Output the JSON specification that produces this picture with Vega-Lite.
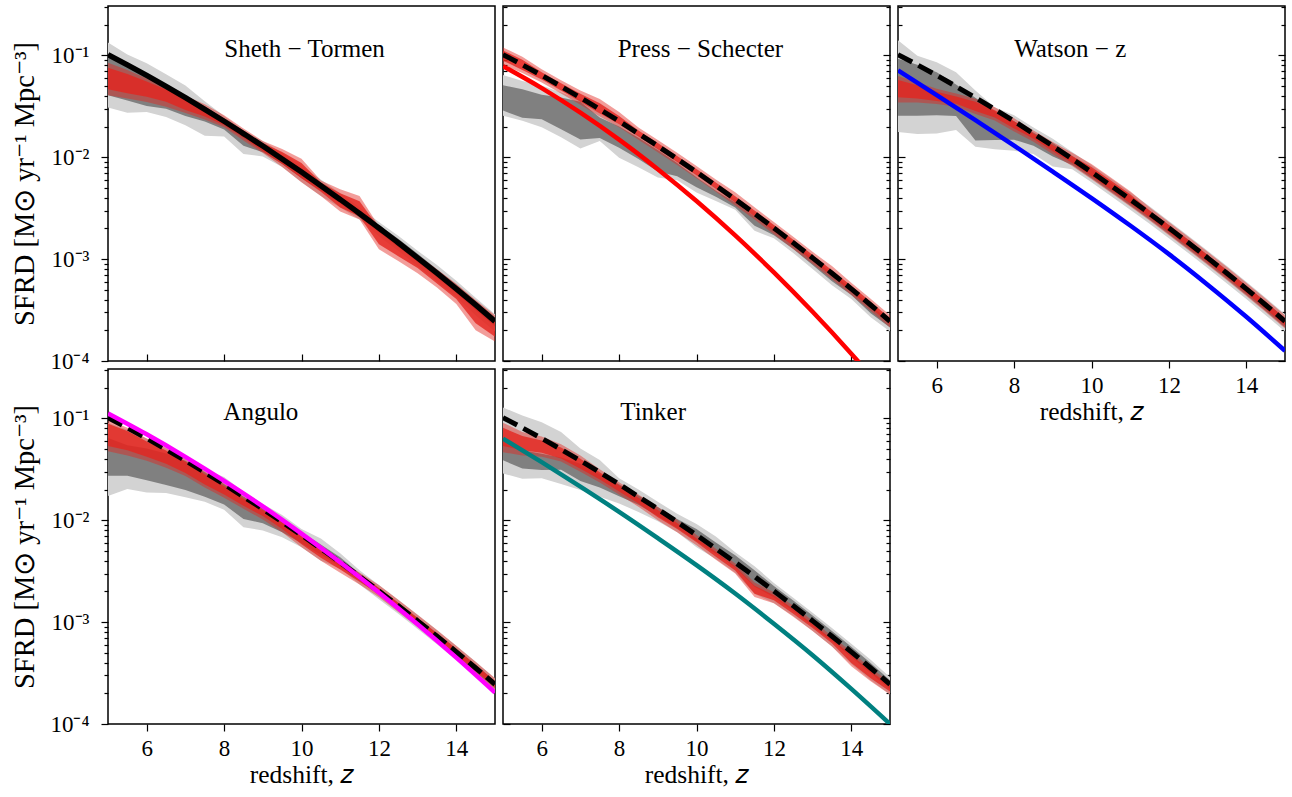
{
  "$schema": "https://vega.github.io/schema/vega-lite/v6.json",
  "background": "white",
  "padding": {"left": 10, "top": 5, "right": 5, "bottom": 5},
  "config": {
    "view": {"stroke": "#000", "strokeWidth": 1.5},
    "font": "Liberation Serif",
    "axis": {"domain": false, "grid": false, "labelFont": "Liberation Serif", "titleFont": "Liberation Serif", "titleFontWeight": "normal", "labelColor": "#000", "titleColor": "#000", "tickColor": "#000", "labelFontSize": 23, "titleFontSize": 25.5}
  },
  "datasets": {
    "bands": [
      {"p":"ST","z":5,"gol":0.0308,"goh":0.134,"gil":0.0406,"gih":0.102,"rol":0.0406,"roh":0.0849,"ril":0.0466,"rih":0.0756},
      {"p":"ST","z":5.5,"gol":0.0274,"goh":0.102,"gil":0.0362,"gih":0.0809,"rol":0.0379,"roh":0.0721,"ril":0.0425,"rih":0.0658},
      {"p":"ST","z":6,"gol":0.0278,"goh":0.084,"gil":0.0319,"gih":0.0667,"rol":0.035,"roh":0.0594,"ril":0.0393,"rih":0.0555},
      {"p":"ST","z":6.5,"gol":0.0249,"goh":0.0655,"gil":0.03,"gih":0.052,"rol":0.0314,"roh":0.0497,"ril":0.0352,"rih":0.0464},
      {"p":"ST","z":7,"gol":0.0207,"goh":0.0507,"gil":0.0254,"gih":0.0403,"rol":0.0273,"roh":0.0403,"ril":0.0292,"rih":0.0385},
      {"p":"ST","z":7.5,"gol":0.0163,"goh":0.0356,"gil":0.0225,"gih":0.0317,"rol":0.0235,"roh":0.0332,"ril":0.0252,"rih":0.031},
      {"p":"ST","z":8,"gol":0.016,"goh":0.0254,"gil":0.0188,"gih":0.0237,"rol":0.0197,"roh":0.0259,"ril":0.0206,"rih":0.0242},
      {"p":"ST","z":8.5,"gol":0.0108,"goh":0.0183,"gil":0.013,"gih":0.0175,"rol":0.0146,"roh":0.0192,"ril":0.0156,"rih":0.0183},
      {"p":"ST","z":9,"gol":0.0102,"goh":0.0145,"gil":0.0112,"gih":0.0135,"rol":0.011,"roh":0.0145,"ril":0.0115,"rih":0.0138},
      {"p":"ST","z":9.5,"gol":0.00802,"goh":0.0111,"gil":0.00859,"gih":0.0103,"rol":0.00802,"roh":0.0121,"ril":0.00859,"rih":0.0113},
      {"p":"ST","z":10,"gol":0.00569,"goh":0.00822,"gil":0.00624,"gih":0.00768,"rol":0.00569,"roh":0.00966,"ril":0.00624,"rih":0.00881},
      {"p":"ST","z":10.5,"gol":0.00418,"goh":0.00605,"gil":0.0047,"gih":0.00565,"rol":0.00418,"roh":0.00591,"ril":0.00459,"rih":0.00565},
      {"p":"ST","z":11,"gol":0.00321,"goh":0.00443,"gil":0.00352,"gih":0.00414,"rol":0.00293,"roh":0.00486,"ril":0.00321,"rih":0.00443},
      {"p":"ST","z":11.5,"gol":0.00245,"goh":0.00323,"gil":0.00256,"gih":0.00301,"rol":0.00245,"roh":0.00416,"ril":0.00262,"rih":0.0037},
      {"p":"ST","z":12,"gol":0.00168,"goh":0.00232,"gil":0.00184,"gih":0.00217,"rol":0.00125,"roh":0.00211,"ril":0.0014,"rih":0.00202},
      {"p":"ST","z":12.5,"gol":0.00121,"goh":0.0017,"gil":0.00132,"gih":0.00159,"rol":0.000958,"roh":0.00155,"ril":0.00107,"rih":0.00145},
      {"p":"ST","z":13,"gol":0.000857,"goh":0.00121,"gil":0.000939,"gih":0.00113,"rol":0.000729,"roh":0.0011,"ril":0.000818,"rih":0.00105},
      {"p":"ST","z":13.5,"gol":0.000606,"goh":0.000875,"gil":0.000664,"gih":0.000798,"rol":0.000527,"roh":0.000798,"ril":0.000578,"rih":0.000762},
      {"p":"ST","z":14,"gol":0.000425,"goh":0.000614,"gil":0.000466,"gih":0.00056,"rol":0.000362,"roh":0.000573,"ril":0.000406,"rih":0.000535},
      {"p":"ST","z":14.5,"gol":0.000282,"goh":0.000417,"gil":0.000316,"gih":0.000389,"rol":0.0002,"roh":0.000398,"ril":0.000235,"rih":0.000355},
      {"p":"ST","z":15,"gol":0.000195,"goh":0.000288,"gil":0.000218,"gih":0.000269,"rol":0.000155,"roh":0.000281,"ril":0.000173,"rih":0.000257},

      {"p":"PS","z":5,"gol":0.0256,"goh":0.0644,"gil":0.0288,"gih":0.0511,"rol":0.081,"roh":0.12,"ril":0.0888,"rih":0.112},
      {"p":"PS","z":5.5,"gol":0.0228,"goh":0.056,"gil":0.0244,"gih":0.0465,"rol":0.0673,"roh":0.0972,"ril":0.0721,"rih":0.0908},
      {"p":"PS","z":6,"gol":0.0197,"goh":0.0506,"gil":0.0237,"gih":0.0412,"rol":0.0542,"roh":0.0731,"ril":0.0581,"rih":0.0683},
      {"p":"PS","z":6.5,"gol":0.0157,"goh":0.0433,"gil":0.0189,"gih":0.0386,"rol":0.0423,"roh":0.0571,"ril":0.0453,"rih":0.0533},
      {"p":"PS","z":7,"gol":0.0122,"goh":0.0368,"gil":0.015,"gih":0.0351,"rol":0.0328,"roh":0.0452,"ril":0.0351,"rih":0.0422},
      {"p":"PS","z":7.5,"gol":0.0145,"goh":0.027,"gil":0.0155,"gih":0.0246,"rol":0.0252,"roh":0.0373,"ril":0.027,"rih":0.034},
      {"p":"PS","z":8,"gol":0.00988,"goh":0.0211,"gil":0.0124,"gih":0.0201,"rol":0.0197,"roh":0.0278,"ril":0.0211,"rih":0.0254},
      {"p":"PS","z":8.5,"gol":0.008,"goh":0.0167,"gil":0.00961,"gih":0.0156,"rol":0.0149,"roh":0.0196,"ril":0.016,"rih":0.0183},
      {"p":"PS","z":9,"gol":0.00632,"goh":0.0123,"gil":0.00725,"gih":0.0118,"rol":0.0112,"roh":0.0148,"ril":0.012,"rih":0.0138},
      {"p":"PS","z":9.5,"gol":0.00595,"goh":0.00921,"gil":0.00652,"gih":0.00879,"rol":0.0084,"roh":0.0111,"ril":0.00899,"rih":0.0103},
      {"p":"PS","z":10,"gol":0.00452,"goh":0.00684,"gil":0.00507,"gih":0.00638,"rol":0.00624,"roh":0.00822,"ril":0.00668,"rih":0.00768},
      {"p":"PS","z":10.5,"gol":0.00373,"goh":0.00503,"gil":0.00409,"gih":0.0047,"rol":0.00459,"roh":0.00605,"ril":0.00492,"rih":0.00565},
      {"p":"PS","z":11,"gol":0.00306,"goh":0.00395,"gil":0.00321,"gih":0.0036,"rol":0.00336,"roh":0.00454,"ril":0.0036,"rih":0.00414},
      {"p":"PS","z":11.5,"gol":0.0019,"goh":0.00287,"gil":0.00213,"gih":0.00262,"rol":0.00245,"roh":0.00323,"ril":0.00262,"rih":0.00301},
      {"p":"PS","z":12,"gol":0.0016,"goh":0.00217,"gil":0.00172,"gih":0.00202,"rol":0.00176,"roh":0.00232,"ril":0.00188,"rih":0.00217},
      {"p":"PS","z":12.5,"gol":0.00115,"goh":0.00155,"gil":0.00126,"gih":0.00145,"rol":0.00126,"roh":0.00166,"ril":0.00135,"rih":0.00155},
      {"p":"PS","z":13,"gol":0.000799,"goh":0.0011,"gil":0.000877,"gih":0.00103,"rol":0.000897,"roh":0.00118,"ril":0.000961,"rih":0.0011},
      {"p":"PS","z":13.5,"gol":0.000553,"goh":0.000762,"gil":0.000606,"gih":0.000728,"rol":0.000634,"roh":0.000855,"ril":0.000679,"rih":0.00078},
      {"p":"PS","z":14,"gol":0.000406,"goh":0.000548,"gil":0.000445,"gih":0.000511,"rol":0.000445,"roh":0.000587,"ril":0.000477,"rih":0.000548},
      {"p":"PS","z":14.5,"gol":0.000269,"goh":0.000381,"gil":0.000295,"gih":0.000355,"rol":0.000309,"roh":0.000408,"ril":0.000331,"rih":0.000381},
      {"p":"PS","z":15,"gol":0.000195,"goh":0.000257,"gil":0.000213,"gih":0.000245,"rol":0.000213,"roh":0.000281,"ril":0.000229,"rih":0.000263},

      {"p":"WZ","z":5,"gol":0.0177,"goh":0.141,"gil":0.0256,"gih":0.093,"rol":0.0346,"roh":0.0629,"ril":0.0388,"rih":0.0573},
      {"p":"WZ","z":5.5,"gol":0.0169,"goh":0.0995,"gil":0.0256,"gih":0.0809,"rol":0.0345,"roh":0.0547,"ril":0.0379,"rih":0.051},
      {"p":"WZ","z":6,"gol":0.0171,"goh":0.0859,"gil":0.0259,"gih":0.0683,"rol":0.0334,"roh":0.0472,"ril":0.0358,"rih":0.0441},
      {"p":"WZ","z":6.5,"gol":0.0185,"goh":0.0686,"gil":0.0255,"gih":0.052,"rol":0.0314,"roh":0.0423,"ril":0.0336,"rih":0.0395},
      {"p":"WZ","z":7,"gol":0.0127,"goh":0.0452,"gil":0.0146,"gih":0.0385,"rol":0.0266,"roh":0.0376,"ril":0.0285,"rih":0.0351},
      {"p":"WZ","z":7.5,"gol":0.012,"goh":0.031,"gil":0.0148,"gih":0.0283,"rol":0.023,"roh":0.031,"ril":0.0246,"rih":0.0289},
      {"p":"WZ","z":8,"gol":0.0116,"goh":0.0259,"gil":0.0149,"gih":0.0226,"rol":0.0179,"roh":0.0242,"ril":0.0192,"rih":0.0226},
      {"p":"WZ","z":8.5,"gol":0.0108,"goh":0.0196,"gil":0.013,"gih":0.0175,"rol":0.0142,"roh":0.0183,"ril":0.0152,"rih":0.0171},
      {"p":"WZ","z":9,"gol":0.00814,"goh":0.0152,"gil":0.0102,"gih":0.0138,"rol":0.0107,"roh":0.0141,"ril":0.0115,"rih":0.0132},
      {"p":"WZ","z":9.5,"gol":0.00765,"goh":0.0113,"gil":0.0084,"gih":0.0103,"rol":0.0082,"roh":0.0111,"ril":0.00879,"rih":0.0103},
      {"p":"WZ","z":10,"gol":0.00569,"goh":0.00841,"gil":0.00624,"gih":0.00768,"rol":0.00609,"roh":0.00861,"ril":0.00653,"rih":0.00803},
      {"p":"WZ","z":10.5,"gol":0.00418,"goh":0.00619,"gil":0.00459,"gih":0.00565,"rol":0.00448,"roh":0.00633,"ril":0.00481,"rih":0.00591},
      {"p":"WZ","z":11,"gol":0.00306,"goh":0.00454,"gil":0.00336,"gih":0.00414,"rol":0.00328,"roh":0.00464,"ril":0.00352,"rih":0.00433},
      {"p":"WZ","z":11.5,"gol":0.00223,"goh":0.0033,"gil":0.00245,"gih":0.00301,"rol":0.00239,"roh":0.00323,"ril":0.00256,"rih":0.00301},
      {"p":"WZ","z":12,"gol":0.0016,"goh":0.00237,"gil":0.00176,"gih":0.00217,"rol":0.00172,"roh":0.00232,"ril":0.00184,"rih":0.00217},
      {"p":"WZ","z":12.5,"gol":0.00115,"goh":0.0017,"gil":0.00126,"gih":0.00155,"rol":0.00123,"roh":0.00166,"ril":0.00132,"rih":0.00155},
      {"p":"WZ","z":13,"gol":0.000818,"goh":0.00121,"gil":0.000897,"gih":0.0011,"rol":0.000877,"roh":0.00118,"ril":0.000939,"rih":0.0011},
      {"p":"WZ","z":13.5,"gol":0.000578,"goh":0.000855,"gil":0.000634,"gih":0.00078,"rol":0.00062,"roh":0.000836,"ril":0.000664,"rih":0.00078},
      {"p":"WZ","z":14,"gol":0.000406,"goh":0.0006,"gil":0.000445,"gih":0.000548,"rol":0.000435,"roh":0.000587,"ril":0.000466,"rih":0.000548},
      {"p":"WZ","z":14.5,"gol":0.000282,"goh":0.000417,"gil":0.000309,"gih":0.000381,"rol":0.000302,"roh":0.000408,"ril":0.000324,"rih":0.000381},
      {"p":"WZ","z":15,"gol":0.000195,"goh":0.000288,"gil":0.000213,"gih":0.000263,"rol":0.000208,"roh":0.000281,"ril":0.000223,"rih":0.000263},

      {"p":"AN","z":5,"gol":0.0173,"goh":0.0909,"gil":0.0274,"gih":0.0644,"rol":0.0477,"roh":0.0974,"ril":0.0536,"rih":0.0888},
      {"p":"AN","z":5.5,"gol":0.0203,"goh":0.0773,"gil":0.0274,"gih":0.0547,"rol":0.0434,"roh":0.0809,"ril":0.0488,"rih":0.0755},
      {"p":"AN","z":6,"gol":0.0188,"goh":0.0637,"gil":0.0248,"gih":0.0506,"rol":0.0384,"roh":0.0637,"ril":0.0421,"rih":0.0594},
      {"p":"AN","z":6.5,"gol":0.0185,"goh":0.0508,"gil":0.0222,"gih":0.0453,"rol":0.0329,"roh":0.052,"ril":0.036,"rih":0.0486},
      {"p":"AN","z":7,"gol":0.0168,"goh":0.0403,"gil":0.0198,"gih":0.0385,"rol":0.0273,"roh":0.0403,"ril":0.0292,"rih":0.0376},
      {"p":"AN","z":7.5,"gol":0.0152,"goh":0.0317,"gil":0.017,"gih":0.0296,"rol":0.021,"roh":0.0303,"ril":0.0225,"rih":0.0283},
      {"p":"AN","z":8,"gol":0.0127,"goh":0.0266,"gil":0.0143,"gih":0.0226,"rol":0.0167,"roh":0.0231,"ril":0.0179,"rih":0.0216},
      {"p":"AN","z":8.5,"gol":0.00857,"goh":0.0192,"gil":0.0103,"gih":0.0171,"rol":0.013,"roh":0.0171,"ril":0.0139,"rih":0.0163},
      {"p":"AN","z":9,"gol":0.00796,"goh":0.0145,"gil":0.00934,"gih":0.0132,"rol":0.0102,"roh":0.0132,"ril":0.011,"rih":0.0126},
      {"p":"AN","z":9.5,"gol":0.00683,"goh":0.0113,"gil":0.00765,"gih":0.0101,"rol":0.00765,"roh":0.0101,"ril":0.0082,"rih":0.00964},
      {"p":"AN","z":10,"gol":0.00543,"goh":0.00822,"gil":0.00596,"gih":0.00768,"rol":0.00543,"roh":0.00733,"ril":0.00582,"rih":0.007},
      {"p":"AN","z":10.5,"gol":0.004,"goh":0.00663,"gil":0.00459,"gih":0.00578,"rol":0.004,"roh":0.00552,"ril":0.00428,"rih":0.00527},
      {"p":"AN","z":11,"gol":0.00336,"goh":0.00475,"gil":0.00352,"gih":0.00433,"rol":0.00306,"roh":0.00404,"ril":0.00328,"rih":0.00386},
      {"p":"AN","z":11.5,"gol":0.00234,"goh":0.00323,"gil":0.00256,"gih":0.00301,"rol":0.00234,"roh":0.00308,"ril":0.0025,"rih":0.00294},
      {"p":"AN","z":12,"gol":0.00168,"goh":0.00232,"gil":0.00184,"gih":0.00217,"rol":0.00176,"roh":0.00232,"ril":0.00188,"rih":0.00217},
      {"p":"AN","z":12.5,"gol":0.00121,"goh":0.00166,"gil":0.00132,"gih":0.00155,"rol":0.00126,"roh":0.00166,"ril":0.00135,"rih":0.00155},
      {"p":"AN","z":13,"gol":0.000857,"goh":0.00118,"gil":0.000939,"gih":0.0011,"rol":0.000897,"roh":0.00118,"ril":0.000961,"rih":0.0011},
      {"p":"AN","z":13.5,"gol":0.000606,"goh":0.000836,"gil":0.000664,"gih":0.00078,"rol":0.000634,"roh":0.000836,"ril":0.000679,"rih":0.00078},
      {"p":"AN","z":14,"gol":0.000425,"goh":0.000587,"gil":0.000466,"gih":0.000548,"rol":0.000445,"roh":0.000587,"ril":0.000477,"rih":0.000548},
      {"p":"AN","z":14.5,"gol":0.000295,"goh":0.000408,"gil":0.000324,"gih":0.000381,"rol":0.000309,"roh":0.000408,"ril":0.000331,"rih":0.000381},
      {"p":"AN","z":15,"gol":0.000204,"goh":0.000281,"gil":0.000223,"gih":0.000263,"rol":0.000213,"roh":0.000281,"ril":0.000229,"rih":0.000263},

      {"p":"TK","z":5,"gol":0.0288,"goh":0.128,"gil":0.0388,"gih":0.0615,"rol":0.0466,"roh":0.0909,"ril":0.0536,"rih":0.081},
      {"p":"TK","z":5.5,"gol":0.0256,"goh":0.107,"gil":0.0322,"gih":0.0488,"rol":0.0434,"roh":0.0738,"ril":0.0488,"rih":0.0673},
      {"p":"TK","z":6,"gol":0.0259,"goh":0.092,"gil":0.0312,"gih":0.0451,"rol":0.0421,"roh":0.0667,"ril":0.0461,"rih":0.0608},
      {"p":"TK","z":6.5,"gol":0.0227,"goh":0.0735,"gil":0.0314,"gih":0.0414,"rol":0.0377,"roh":0.0558,"ril":0.0404,"rih":0.052},
      {"p":"TK","z":7,"gol":0.0198,"goh":0.0507,"gil":0.0243,"gih":0.0359,"rol":0.0299,"roh":0.0432,"ril":0.032,"rih":0.0403},
      {"p":"TK","z":7.5,"gol":0.017,"goh":0.039,"gil":0.021,"gih":0.0283,"rol":0.0235,"roh":0.0317,"ril":0.0252,"rih":0.0296},
      {"p":"TK","z":8,"gol":0.0146,"goh":0.0259,"gil":0.0172,"gih":0.0226,"rol":0.0179,"roh":0.0237,"ril":0.0192,"rih":0.0221},
      {"p":"TK","z":8.5,"gol":0.0121,"goh":0.0201,"gil":0.0142,"gih":0.0175,"rol":0.0136,"roh":0.0179,"ril":0.0146,"rih":0.0167},
      {"p":"TK","z":9,"gol":0.00979,"goh":0.0152,"gil":0.011,"gih":0.0135,"rol":0.01,"roh":0.0135,"ril":0.0107,"rih":0.0126},
      {"p":"TK","z":9.5,"gol":0.00765,"goh":0.0116,"gil":0.0084,"gih":0.0103,"rol":0.00765,"roh":0.0101,"ril":0.0082,"rih":0.00942},
      {"p":"TK","z":10,"gol":0.00543,"goh":0.00922,"gil":0.00624,"gih":0.00822,"rol":0.00569,"roh":0.00716,"ril":0.00609,"rih":0.00668},
      {"p":"TK","z":10.5,"gol":0.00418,"goh":0.00695,"gil":0.0047,"gih":0.00605,"rol":0.00409,"roh":0.00527,"ril":0.00438,"rih":0.00492},
      {"p":"TK","z":11,"gol":0.00306,"goh":0.00486,"gil":0.00344,"gih":0.00454,"rol":0.003,"roh":0.00377,"ril":0.00321,"rih":0.00352},
      {"p":"TK","z":11.5,"gol":0.0019,"goh":0.00354,"gil":0.00223,"gih":0.00323,"rol":0.00177,"roh":0.00245,"ril":0.0019,"rih":0.00228},
      {"p":"TK","z":12,"gol":0.00153,"goh":0.00243,"gil":0.00176,"gih":0.00227,"rol":0.00153,"roh":0.00197,"ril":0.00164,"rih":0.00184},
      {"p":"TK","z":12.5,"gol":0.00115,"goh":0.00174,"gil":0.00129,"gih":0.00163,"rol":0.00113,"roh":0.00145,"ril":0.00121,"rih":0.00135},
      {"p":"TK","z":13,"gol":0.000818,"goh":0.00124,"gil":0.000918,"gih":0.00116,"rol":0.000818,"roh":0.00103,"ril":0.000877,"rih":0.000961},
      {"p":"TK","z":13.5,"gol":0.000578,"goh":0.000875,"gil":0.000649,"gih":0.000817,"rol":0.000578,"roh":0.000728,"ril":0.00062,"rih":0.000679},
      {"p":"TK","z":14,"gol":0.000388,"goh":0.000614,"gil":0.000455,"gih":0.000573,"rol":0.00037,"roh":0.000511,"ril":0.000397,"rih":0.000477},
      {"p":"TK","z":14.5,"gol":0.000269,"goh":0.000427,"gil":0.000316,"gih":0.000398,"rol":0.000263,"roh":0.000355,"ril":0.000282,"rih":0.000331},
      {"p":"TK","z":15,"gol":0.000195,"goh":0.000288,"gil":0.000218,"gih":0.000269,"rol":0.000195,"roh":0.000257,"ril":0.000208,"rih":0.000239}
    ],
    "lines": [
      {"m":"ST","z":5,"v":0.102},{"m":"ST","z":5.5,"v":0.0809},{"m":"ST","z":6,"v":0.0637},{"m":"ST","z":6.5,"v":0.0497},
      {"m":"ST","z":7,"v":0.0385},{"m":"ST","z":7.5,"v":0.0296},{"m":"ST","z":8,"v":0.0226},{"m":"ST","z":8.5,"v":0.0171},
      {"m":"ST","z":9,"v":0.0129},{"m":"ST","z":9.5,"v":0.00964},{"m":"ST","z":10,"v":0.00716},{"m":"ST","z":10.5,"v":0.00527},
      {"m":"ST","z":11,"v":0.00386},{"m":"ST","z":11.5,"v":0.00281},{"m":"ST","z":12,"v":0.00202},{"m":"ST","z":12.5,"v":0.00145},
      {"m":"ST","z":13,"v":0.00103},{"m":"ST","z":13.5,"v":0.000728},{"m":"ST","z":14,"v":0.000511},{"m":"ST","z":14.5,"v":0.000355},
      {"m":"ST","z":15,"v":0.000245},
      {"m":"PS","z":5,"v":0.0785},{"m":"PS","z":6,"v":0.0478},{"m":"PS","z":7,"v":0.0274},{"m":"PS","z":8,"v":0.0149},
      {"m":"PS","z":9,"v":0.00764},{"m":"PS","z":10,"v":0.00372},{"m":"PS","z":11,"v":0.00171},{"m":"PS","z":12,"v":0.000741},
      {"m":"PS","z":13,"v":0.000304},{"m":"PS","z":14,"v":0.000118},{"m":"PS","z":15,"v":0.0000434},
      {"m":"WZ","z":5,"v":0.0713},{"m":"WZ","z":6,"v":0.0407},{"m":"WZ","z":7,"v":0.0232},{"m":"WZ","z":8,"v":0.01303},
      {"m":"WZ","z":9,"v":0.00724},{"m":"WZ","z":10,"v":0.00398},{"m":"WZ","z":11,"v":0.00214},{"m":"WZ","z":12,"v":0.00112},
      {"m":"WZ","z":13,"v":0.000562},{"m":"WZ","z":14,"v":0.000272},{"m":"WZ","z":15,"v":0.000126},
      {"m":"AN","z":5,"v":0.1122},{"m":"AN","z":6,"v":0.0699},{"m":"AN","z":7,"v":0.042},{"m":"AN","z":8,"v":0.0244},
      {"m":"AN","z":9,"v":0.0137},{"m":"AN","z":10,"v":0.00741},{"m":"AN","z":11,"v":0.00388},{"m":"AN","z":12,"v":0.00196},
      {"m":"AN","z":13,"v":0.000954},{"m":"AN","z":14,"v":0.000449},{"m":"AN","z":15,"v":0.000204},
      {"m":"TK","z":5,"v":0.0635},{"m":"TK","z":6,"v":0.0372},{"m":"TK","z":7,"v":0.0214},{"m":"TK","z":8,"v":0.0121},
      {"m":"TK","z":9,"v":0.00668},{"m":"TK","z":10,"v":0.00363},{"m":"TK","z":11,"v":0.00191},{"m":"TK","z":12,"v":0.000964},
      {"m":"TK","z":13,"v":0.000473},{"m":"TK","z":14,"v":0.000221},{"m":"TK","z":15,"v":0.0001}
    ],
    "labels": [
      {"p":"ST","z":10.08,"v":0.0965,"t":"Sheth − Tormen"},
      {"p":"PS","z":10.1,"v":0.0965,"t":"Press − Schecter"},
      {"p":"WZ","z":9.45,"v":0.0965,"t":"Watson − z"},
      {"p":"AN","z":8.95,"v":0.0965,"t":"Angulo"},
      {"p":"TK","z":8.88,"v":0.0965,"t":"Tinker"}
    ]
  },
  "columns": 3,
  "spacing": {"row": 8, "column": 8},
  "bounds": "flush",
  "concat": [
    {
      "width": 387, "height": 355,
      "resolve": {"axis": {"y": "independent"}},
      "encoding": {"x": {"field": "z", "type": "quantitative", "scale": {"domain": [5, 15], "nice": false, "zero": false},
        "axis": {"values": [6,8,10,12,14], "labels": false, "tickSize": -7, "tickWidth": 1.2, "title": null}}},
      "layer": [
        {"data": {"name": "bands"}, "transform": [{"filter": "datum.p == 'ST'"}], "mark": {"type": "area", "color": "#d3d3d3", "clip": true},
         "encoding": {"y": {"field": "gol", "type": "quantitative", "scale": {"type": "log", "domain": [0.0001, 0.306], "nice": false},
           "axis": {"orient": "left", "values": [0.0001,0.0002,0.0003,0.0004,0.0005,0.0006,0.0007,0.0008,0.0009,0.001,0.002,0.003,0.004,0.005,0.006,0.007,0.008,0.009,0.01,0.02,0.03,0.04,0.05,0.06,0.07,0.08,0.09,0.1,0.2,0.3],
             "labelExpr": "datum.value == 0.1 ? '10⁻¹' : datum.value == 0.01 ? '10⁻²' : datum.value == 0.001 ? '10⁻³' : datum.value == 0.0001 ? '10⁻⁴' : ''",
             "labelFontSize": {"condition": {"test": "datum.value == 0.1 || datum.value == 0.01 || datum.value == 0.001 || datum.value == 0.0001", "value": 23}, "value": 1},
             "tickSize": {"condition": {"test": "datum.value == 0.1 || datum.value == 0.01 || datum.value == 0.001 || datum.value == 0.0001", "value": 7}, "value": 4},
             "tickWidth": 1.2, "labelPadding": 12, "labelOverlap": false, "labelFlush": false, "labelBound": false,
             "title": "SFRD [M⊙ yr⁻¹ Mpc⁻³]", "titleFontSize": 28.5, "titlePadding": 10}},
           "y2": {"field": "goh"}}},
        {"data": {"name": "bands"}, "transform": [{"filter": "datum.p == 'ST'"}], "mark": {"type": "area", "color": "#808080", "clip": true},
         "encoding": {"y": {"field": "gil", "type": "quantitative", "scale": {"type": "log", "domain": [0.0001, 0.306], "nice": false}, "axis": null}, "y2": {"field": "gih"}}},
        {"data": {"name": "bands"}, "transform": [{"filter": "datum.p == 'ST'"}], "mark": {"type": "area", "color": "#e3261f", "opacity": 0.45, "clip": true},
         "encoding": {"y": {"field": "rol", "type": "quantitative", "scale": {"type": "log", "domain": [0.0001, 0.306], "nice": false}, "axis": null}, "y2": {"field": "roh"}}},
        {"data": {"name": "bands"}, "transform": [{"filter": "datum.p == 'ST'"}], "mark": {"type": "area", "color": "#e3261f", "opacity": 0.8, "clip": true},
         "encoding": {"y": {"field": "ril", "type": "quantitative", "scale": {"type": "log", "domain": [0.0001, 0.306], "nice": false}, "axis": null}, "y2": {"field": "rih"}}},
        {"data": {"name": "lines"}, "transform": [{"filter": "datum.m == 'ST'"}], "mark": {"type": "line", "color": "#000", "strokeWidth": 5.5, "interpolate": "monotone", "clip": true},
         "encoding": {"y": {"field": "v", "type": "quantitative", "scale": {"type": "log", "domain": [0.0001, 0.306], "nice": false}, "axis": null}}},
        {"data": {"name": "labels"}, "transform": [{"filter": "datum.p == 'ST'"}], "mark": {"type": "text", "font": "Liberation Serif", "fontSize": 25, "align": "center", "baseline": "alphabetic", "color": "#000"},
         "encoding": {"y": {"field": "v", "type": "quantitative", "scale": {"type": "log", "domain": [0.0001, 0.306], "nice": false}, "axis": null}, "text": {"field": "t"}}}
      ]
    },
    {
      "width": 387, "height": 355,
      "resolve": {"axis": {"y": "independent"}},
      "encoding": {"x": {"field": "z", "type": "quantitative", "scale": {"domain": [5, 15], "nice": false, "zero": false},
        "axis": {"values": [6,8,10,12,14], "labels": false, "tickSize": -7, "tickWidth": 1.2, "title": null}}},
      "layer": [
        {"data": {"name": "bands"}, "transform": [{"filter": "datum.p == 'PS'"}], "mark": {"type": "area", "color": "#d3d3d3", "clip": true},
         "encoding": {"y": {"field": "gol", "type": "quantitative", "scale": {"type": "log", "domain": [0.0001, 0.306], "nice": false},
           "axis": {"orient": "left", "values": [0.0001,0.0002,0.0003,0.0004,0.0005,0.0006,0.0007,0.0008,0.0009,0.001,0.002,0.003,0.004,0.005,0.006,0.007,0.008,0.009,0.01,0.02,0.03,0.04,0.05,0.06,0.07,0.08,0.09,0.1,0.2,0.3],
             "labels": false, "tickSize": {"condition": {"test": "datum.value == 0.1 || datum.value == 0.01 || datum.value == 0.001 || datum.value == 0.0001", "value": -7}, "value": -4},
             "tickWidth": 1.2, "title": null}},
           "y2": {"field": "goh"}}},
        {"data": {"name": "bands"}, "transform": [{"filter": "datum.p == 'PS'"}], "mark": {"type": "area", "color": "#808080", "clip": true},
         "encoding": {"y": {"field": "gil", "type": "quantitative", "scale": {"type": "log", "domain": [0.0001, 0.306], "nice": false}, "axis": null}, "y2": {"field": "gih"}}},
        {"data": {"name": "bands"}, "transform": [{"filter": "datum.p == 'PS'"}], "mark": {"type": "area", "color": "#e3261f", "opacity": 0.45, "clip": true},
         "encoding": {"y": {"field": "rol", "type": "quantitative", "scale": {"type": "log", "domain": [0.0001, 0.306], "nice": false}, "axis": null}, "y2": {"field": "roh"}}},
        {"data": {"name": "bands"}, "transform": [{"filter": "datum.p == 'PS'"}], "mark": {"type": "area", "color": "#e3261f", "opacity": 0.8, "clip": true},
         "encoding": {"y": {"field": "ril", "type": "quantitative", "scale": {"type": "log", "domain": [0.0001, 0.306], "nice": false}, "axis": null}, "y2": {"field": "rih"}}},
        {"data": {"name": "lines"}, "transform": [{"filter": "datum.m == 'ST'"}], "mark": {"type": "line", "color": "#000", "strokeWidth": 5, "strokeDash": [16, 7], "interpolate": "monotone", "clip": true},
         "encoding": {"y": {"field": "v", "type": "quantitative", "scale": {"type": "log", "domain": [0.0001, 0.306], "nice": false},
           "axis": {"orient": "right", "values": [0.0001,0.0002,0.0003,0.0004,0.0005,0.0006,0.0007,0.0008,0.0009,0.001,0.002,0.003,0.004,0.005,0.006,0.007,0.008,0.009,0.01,0.02,0.03,0.04,0.05,0.06,0.07,0.08,0.09,0.1,0.2,0.3],
             "labels": false, "tickSize": {"condition": {"test": "datum.value == 0.1 || datum.value == 0.01 || datum.value == 0.001 || datum.value == 0.0001", "value": -7}, "value": -4},
             "tickWidth": 1.2, "title": null}}}},
        {"data": {"name": "lines"}, "transform": [{"filter": "datum.m == 'PS'"}], "mark": {"type": "line", "color": "#ff0000", "strokeWidth": 4.5, "interpolate": "monotone", "clip": true},
         "encoding": {"y": {"field": "v", "type": "quantitative", "scale": {"type": "log", "domain": [0.0001, 0.306], "nice": false}, "axis": null}}},
        {"data": {"name": "labels"}, "transform": [{"filter": "datum.p == 'PS'"}], "mark": {"type": "text", "font": "Liberation Serif", "fontSize": 25, "align": "center", "baseline": "alphabetic", "color": "#000"},
         "encoding": {"y": {"field": "v", "type": "quantitative", "scale": {"type": "log", "domain": [0.0001, 0.306], "nice": false}, "axis": null}, "text": {"field": "t"}}}
      ]
    },
    {
      "width": 387, "height": 355,
      "resolve": {"axis": {"y": "independent"}},
      "encoding": {"x": {"field": "z", "type": "quantitative", "scale": {"domain": [5, 15], "nice": false, "zero": false},
        "axis": {"values": [6,8,10,12,14], "tickSize": 7, "tickWidth": 1.2, "labelPadding": 6, "title": "redshift, 𝑧", "titlePadding": 2}}},
      "layer": [
        {"data": {"name": "bands"}, "transform": [{"filter": "datum.p == 'WZ'"}], "mark": {"type": "area", "color": "#d3d3d3", "clip": true},
         "encoding": {"y": {"field": "gol", "type": "quantitative", "scale": {"type": "log", "domain": [0.0001, 0.306], "nice": false},
           "axis": {"orient": "left", "values": [0.0001,0.0002,0.0003,0.0004,0.0005,0.0006,0.0007,0.0008,0.0009,0.001,0.002,0.003,0.004,0.005,0.006,0.007,0.008,0.009,0.01,0.02,0.03,0.04,0.05,0.06,0.07,0.08,0.09,0.1,0.2,0.3],
             "labels": false, "tickSize": {"condition": {"test": "datum.value == 0.1 || datum.value == 0.01 || datum.value == 0.001 || datum.value == 0.0001", "value": -7}, "value": -4},
             "tickWidth": 1.2, "title": null}},
           "y2": {"field": "goh"}}},
        {"data": {"name": "bands"}, "transform": [{"filter": "datum.p == 'WZ'"}], "mark": {"type": "area", "color": "#808080", "clip": true},
         "encoding": {"y": {"field": "gil", "type": "quantitative", "scale": {"type": "log", "domain": [0.0001, 0.306], "nice": false}, "axis": null}, "y2": {"field": "gih"}}},
        {"data": {"name": "bands"}, "transform": [{"filter": "datum.p == 'WZ'"}], "mark": {"type": "area", "color": "#e3261f", "opacity": 0.45, "clip": true},
         "encoding": {"y": {"field": "rol", "type": "quantitative", "scale": {"type": "log", "domain": [0.0001, 0.306], "nice": false}, "axis": null}, "y2": {"field": "roh"}}},
        {"data": {"name": "bands"}, "transform": [{"filter": "datum.p == 'WZ'"}], "mark": {"type": "area", "color": "#e3261f", "opacity": 0.8, "clip": true},
         "encoding": {"y": {"field": "ril", "type": "quantitative", "scale": {"type": "log", "domain": [0.0001, 0.306], "nice": false}, "axis": null}, "y2": {"field": "rih"}}},
        {"data": {"name": "lines"}, "transform": [{"filter": "datum.m == 'ST'"}], "mark": {"type": "line", "color": "#000", "strokeWidth": 5, "strokeDash": [16, 7], "interpolate": "monotone", "clip": true},
         "encoding": {"y": {"field": "v", "type": "quantitative", "scale": {"type": "log", "domain": [0.0001, 0.306], "nice": false},
           "axis": {"orient": "right", "values": [0.0001,0.0002,0.0003,0.0004,0.0005,0.0006,0.0007,0.0008,0.0009,0.001,0.002,0.003,0.004,0.005,0.006,0.007,0.008,0.009,0.01,0.02,0.03,0.04,0.05,0.06,0.07,0.08,0.09,0.1,0.2,0.3],
             "labels": false, "tickSize": {"condition": {"test": "datum.value == 0.1 || datum.value == 0.01 || datum.value == 0.001 || datum.value == 0.0001", "value": -7}, "value": -4},
             "tickWidth": 1.2, "title": null}}}},
        {"data": {"name": "lines"}, "transform": [{"filter": "datum.m == 'WZ'"}], "mark": {"type": "line", "color": "#0000ff", "strokeWidth": 4.5, "interpolate": "monotone", "clip": true},
         "encoding": {"y": {"field": "v", "type": "quantitative", "scale": {"type": "log", "domain": [0.0001, 0.306], "nice": false}, "axis": null}}},
        {"data": {"name": "labels"}, "transform": [{"filter": "datum.p == 'WZ'"}], "mark": {"type": "text", "font": "Liberation Serif", "fontSize": 25, "align": "center", "baseline": "alphabetic", "color": "#000"},
         "encoding": {"y": {"field": "v", "type": "quantitative", "scale": {"type": "log", "domain": [0.0001, 0.306], "nice": false}, "axis": null}, "text": {"field": "t"}}}
      ]
    },
    {
      "width": 387, "height": 355,
      "resolve": {"axis": {"y": "independent"}},
      "encoding": {"x": {"field": "z", "type": "quantitative", "scale": {"domain": [5, 15], "nice": false, "zero": false},
        "axis": {"values": [6,8,10,12,14], "tickSize": 7, "tickWidth": 1.2, "labelPadding": 6, "title": "redshift, 𝑧", "titlePadding": 2}}},
      "layer": [
        {"data": {"name": "bands"}, "transform": [{"filter": "datum.p == 'AN'"}], "mark": {"type": "area", "color": "#d3d3d3", "clip": true},
         "encoding": {"y": {"field": "gol", "type": "quantitative", "scale": {"type": "log", "domain": [0.0001, 0.306], "nice": false},
           "axis": {"orient": "left", "values": [0.0001,0.0002,0.0003,0.0004,0.0005,0.0006,0.0007,0.0008,0.0009,0.001,0.002,0.003,0.004,0.005,0.006,0.007,0.008,0.009,0.01,0.02,0.03,0.04,0.05,0.06,0.07,0.08,0.09,0.1,0.2,0.3],
             "labelExpr": "datum.value == 0.1 ? '10⁻¹' : datum.value == 0.01 ? '10⁻²' : datum.value == 0.001 ? '10⁻³' : datum.value == 0.0001 ? '10⁻⁴' : ''",
             "labelFontSize": {"condition": {"test": "datum.value == 0.1 || datum.value == 0.01 || datum.value == 0.001 || datum.value == 0.0001", "value": 23}, "value": 1},
             "tickSize": {"condition": {"test": "datum.value == 0.1 || datum.value == 0.01 || datum.value == 0.001 || datum.value == 0.0001", "value": 7}, "value": 4},
             "tickWidth": 1.2, "labelPadding": 12, "labelOverlap": false, "labelFlush": false, "labelBound": false,
             "title": "SFRD [M⊙ yr⁻¹ Mpc⁻³]", "titleFontSize": 28.5, "titlePadding": 10}},
           "y2": {"field": "goh"}}},
        {"data": {"name": "bands"}, "transform": [{"filter": "datum.p == 'AN'"}], "mark": {"type": "area", "color": "#808080", "clip": true},
         "encoding": {"y": {"field": "gil", "type": "quantitative", "scale": {"type": "log", "domain": [0.0001, 0.306], "nice": false}, "axis": null}, "y2": {"field": "gih"}}},
        {"data": {"name": "bands"}, "transform": [{"filter": "datum.p == 'AN'"}], "mark": {"type": "area", "color": "#e3261f", "opacity": 0.45, "clip": true},
         "encoding": {"y": {"field": "rol", "type": "quantitative", "scale": {"type": "log", "domain": [0.0001, 0.306], "nice": false}, "axis": null}, "y2": {"field": "roh"}}},
        {"data": {"name": "bands"}, "transform": [{"filter": "datum.p == 'AN'"}], "mark": {"type": "area", "color": "#e3261f", "opacity": 0.8, "clip": true},
         "encoding": {"y": {"field": "ril", "type": "quantitative", "scale": {"type": "log", "domain": [0.0001, 0.306], "nice": false}, "axis": null}, "y2": {"field": "rih"}}},
        {"data": {"name": "lines"}, "transform": [{"filter": "datum.m == 'ST'"}], "mark": {"type": "line", "color": "#000", "strokeWidth": 5, "strokeDash": [16, 7], "interpolate": "monotone", "clip": true},
         "encoding": {"y": {"field": "v", "type": "quantitative", "scale": {"type": "log", "domain": [0.0001, 0.306], "nice": false}, "axis": null}}},
        {"data": {"name": "lines"}, "transform": [{"filter": "datum.m == 'AN'"}], "mark": {"type": "line", "color": "#ff00ff", "strokeWidth": 4.5, "interpolate": "monotone", "clip": true},
         "encoding": {"y": {"field": "v", "type": "quantitative", "scale": {"type": "log", "domain": [0.0001, 0.306], "nice": false}, "axis": null}}},
        {"data": {"name": "labels"}, "transform": [{"filter": "datum.p == 'AN'"}], "mark": {"type": "text", "font": "Liberation Serif", "fontSize": 25, "align": "center", "baseline": "alphabetic", "color": "#000"},
         "encoding": {"y": {"field": "v", "type": "quantitative", "scale": {"type": "log", "domain": [0.0001, 0.306], "nice": false}, "axis": null}, "text": {"field": "t"}}}
      ]
    },
    {
      "width": 387, "height": 355,
      "resolve": {"axis": {"y": "independent"}},
      "encoding": {"x": {"field": "z", "type": "quantitative", "scale": {"domain": [5, 15], "nice": false, "zero": false},
        "axis": {"values": [6,8,10,12,14], "tickSize": 7, "tickWidth": 1.2, "labelPadding": 6, "title": "redshift, 𝑧", "titlePadding": 2}}},
      "layer": [
        {"data": {"name": "bands"}, "transform": [{"filter": "datum.p == 'TK'"}], "mark": {"type": "area", "color": "#d3d3d3", "clip": true},
         "encoding": {"y": {"field": "gol", "type": "quantitative", "scale": {"type": "log", "domain": [0.0001, 0.306], "nice": false},
           "axis": {"orient": "left", "values": [0.0001,0.0002,0.0003,0.0004,0.0005,0.0006,0.0007,0.0008,0.0009,0.001,0.002,0.003,0.004,0.005,0.006,0.007,0.008,0.009,0.01,0.02,0.03,0.04,0.05,0.06,0.07,0.08,0.09,0.1,0.2,0.3],
             "labels": false, "tickSize": {"condition": {"test": "datum.value == 0.1 || datum.value == 0.01 || datum.value == 0.001 || datum.value == 0.0001", "value": -7}, "value": -4},
             "tickWidth": 1.2, "title": null}},
           "y2": {"field": "goh"}}},
        {"data": {"name": "bands"}, "transform": [{"filter": "datum.p == 'TK'"}], "mark": {"type": "area", "color": "#808080", "clip": true},
         "encoding": {"y": {"field": "gil", "type": "quantitative", "scale": {"type": "log", "domain": [0.0001, 0.306], "nice": false}, "axis": null}, "y2": {"field": "gih"}}},
        {"data": {"name": "bands"}, "transform": [{"filter": "datum.p == 'TK'"}], "mark": {"type": "area", "color": "#e3261f", "opacity": 0.45, "clip": true},
         "encoding": {"y": {"field": "rol", "type": "quantitative", "scale": {"type": "log", "domain": [0.0001, 0.306], "nice": false}, "axis": null}, "y2": {"field": "roh"}}},
        {"data": {"name": "bands"}, "transform": [{"filter": "datum.p == 'TK'"}], "mark": {"type": "area", "color": "#e3261f", "opacity": 0.8, "clip": true},
         "encoding": {"y": {"field": "ril", "type": "quantitative", "scale": {"type": "log", "domain": [0.0001, 0.306], "nice": false}, "axis": null}, "y2": {"field": "rih"}}},
        {"data": {"name": "lines"}, "transform": [{"filter": "datum.m == 'ST'"}], "mark": {"type": "line", "color": "#000", "strokeWidth": 5, "strokeDash": [16, 7], "interpolate": "monotone", "clip": true},
         "encoding": {"y": {"field": "v", "type": "quantitative", "scale": {"type": "log", "domain": [0.0001, 0.306], "nice": false},
           "axis": {"orient": "right", "values": [0.0001,0.0002,0.0003,0.0004,0.0005,0.0006,0.0007,0.0008,0.0009,0.001,0.002,0.003,0.004,0.005,0.006,0.007,0.008,0.009,0.01,0.02,0.03,0.04,0.05,0.06,0.07,0.08,0.09,0.1,0.2,0.3],
             "labels": false, "tickSize": {"condition": {"test": "datum.value == 0.1 || datum.value == 0.01 || datum.value == 0.001 || datum.value == 0.0001", "value": -7}, "value": -4},
             "tickWidth": 1.2, "title": null}}}},
        {"data": {"name": "lines"}, "transform": [{"filter": "datum.m == 'TK'"}], "mark": {"type": "line", "color": "#008080", "strokeWidth": 4.5, "interpolate": "monotone", "clip": true},
         "encoding": {"y": {"field": "v", "type": "quantitative", "scale": {"type": "log", "domain": [0.0001, 0.306], "nice": false}, "axis": null}}},
        {"data": {"name": "labels"}, "transform": [{"filter": "datum.p == 'TK'"}], "mark": {"type": "text", "font": "Liberation Serif", "fontSize": 25, "align": "center", "baseline": "alphabetic", "color": "#000"},
         "encoding": {"y": {"field": "v", "type": "quantitative", "scale": {"type": "log", "domain": [0.0001, 0.306], "nice": false}, "axis": null}, "text": {"field": "t"}}}
      ]
    }
  ]
}
